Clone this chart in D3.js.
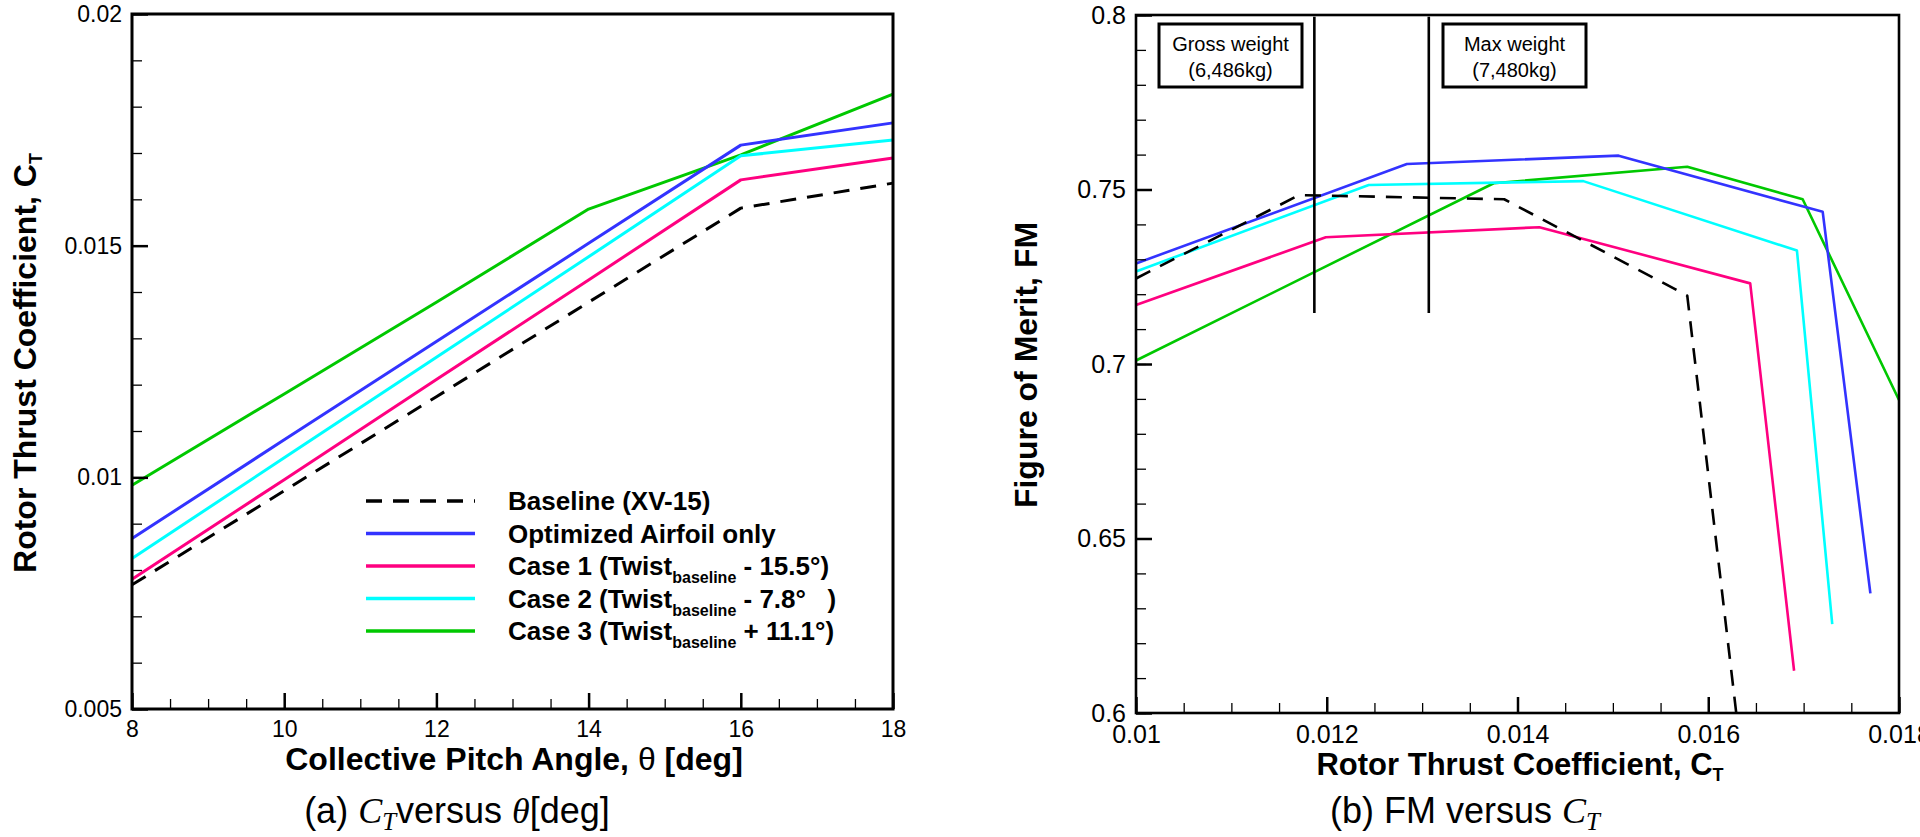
<!DOCTYPE html>
<html>
<head>
<meta charset="utf-8">
<script src="https://cdn.jsdelivr.net/npm/d3@7"></script>
<style>
  body { margin: 0; background: white; }
  svg { display: block; font-family: "Liberation Sans", Arial, sans-serif; }
  text { white-space: pre; }
</style>
</head>
<body>
<script>
// (a) CT versus collective pitch
const pitchDeg = [8, 10, 12, 14, 16, 18]
const ctBaseline = [0.00768, 0.00971, 0.01174, 0.01378, 0.01581, 0.01635]
const ctAirfoil = [0.00868, 0.01081, 0.01293, 0.01505, 0.01717, 0.01765]
const ctCase1 = [0.00780, 0.00995, 0.01211, 0.01426, 0.01642, 0.01689]
const ctCase2 = [0.00825, 0.01042, 0.01259, 0.01476, 0.01694, 0.01728]
const ctCase3 = [0.00983, 0.01180, 0.01378, 0.01579, 0.01696, 0.01827]

// (b) FM versus CT
const fmCtBaseline = [0.0100, 0.01171, 0.01386, 0.01578, 0.01630]
const fmBaseline = [0.7245, 0.7484, 0.7472, 0.7196, 0.5985]
const fmCtAirfoil = [0.0100, 0.01284, 0.01506, 0.01720, 0.01770]
const fmAirfoil = [0.7288, 0.7573, 0.7597, 0.7436, 0.6343]
const fmCtCase1 = [0.0100, 0.01199, 0.01423, 0.01644, 0.01690]
const fmCase1 = [0.7169, 0.7363, 0.7392, 0.7231, 0.6121]
const fmCtCase2 = [0.0100, 0.01244, 0.01469, 0.01693, 0.01730]
const fmCase2 = [0.7265, 0.7513, 0.7524, 0.7325, 0.6255]
const fmCtCase3 = [0.0100, 0.01375, 0.01578, 0.01699, 0.0180]
const fmCase3 = [0.7010, 0.7518, 0.7565, 0.7472, 0.6897]

// weight markers
const weightNames = ['Gross weight', 'Max weight']
const weightMass = ['(6,486kg)', '(7,480kg)']
const weightCt = [0.01187, 0.01307]
const weightFmRange = [0.7146, 0.7995]

// legend
const legendMain = ['Baseline (XV-15)', 'Optimized Airfoil only', 'Case 1 (Twist', 'Case 2 (Twist', 'Case 3 (Twist']
const legendSub = ['', '', 'baseline', 'baseline', 'baseline']
const legendTail = ['', '', ' - 15.5\u00b0)', ' - 7.8\u00b0   )', ' + 11.1\u00b0)']

// ticks
const pitchTicks = [8, 10, 12, 14, 16, 18]
const ctTicks = [0.005, 0.01, 0.015, 0.02]
const ctTickLabels = ['0.005', '0.01', '0.015', '0.02']
const fmCtTicks = [0.01, 0.012, 0.014, 0.016, 0.018]
const fmCtTickLabels = ['0.01', '0.012', '0.014', '0.016', '0.018']
const fmTicks = [0.6, 0.65, 0.7, 0.75, 0.8]
const fmTickLabels = ['0.6', '0.65', '0.7', '0.75', '0.8']

const colors = ['black', '#3333ff', '#ff0080', '#00ffff', '#00c800']
const dashes = ['16,11', null, null, null, null]

const width = 1920
const height = 837

const svg = d3.select('body')
    .append('svg')
    .attr('width', width)
    .attr('height', height)

// scales
let xPitch = d3.scaleLinear().domain([8, 18]).range([132, 893])
let yCt = d3.scaleLinear().domain([0.005, 0.02]).range([709, 14])
let xFmCt = d3.scaleLinear().domain([0.01, 0.018]).range([1136, 1899])
let yFm = d3.scaleLinear().domain([0.6, 0.8]).range([713, 15])

function range(a, b, step) {
    // minor tick positions
    let out = []
    for (let i = 0; a + i * step <= b + step / 1000; i++) out.push(+(a + i * step).toFixed(6))
    return out
}

function drawAxes(g, xs, ys, xTicks, xLabels, xMinor, yTicks, yLabels, yMinor, fontSize, frameWidth) {
    let [x0, x1] = xs.range()
    let [y0, y1] = ys.range()
    let bottom = g.append('g')
        .attr('transform', `translate(0, ${y0})`)
        .call(d3.axisBottom(xs).tickValues(xMinor).tickSize(-10).tickFormat(''))
    bottom.select('.domain').remove()
    bottom.selectAll('text').remove()
    bottom.selectAll('line').attr('stroke-width', 1.3)
    let bottomMajor = g.append('g')
        .attr('transform', `translate(0, ${y0})`)
        .call(d3.axisBottom(xs).tickValues(xTicks).tickSize(-16).tickPadding(12)
            .tickFormat((d, i) => xLabels[i]))
    bottomMajor.select('.domain').remove()
    bottomMajor.selectAll('line').attr('stroke-width', 2.5)
    bottomMajor.selectAll('text')
        .attr('font-size', fontSize)
        .attr('font-family', '"Liberation Sans", Arial, sans-serif')
        .attr('fill', 'black')

    let left = g.append('g')
        .attr('transform', `translate(${x0}, 0)`)
        .call(d3.axisLeft(ys).tickValues(yMinor).tickSize(-10).tickFormat(''))
    left.select('.domain').remove()
    left.selectAll('text').remove()
    left.selectAll('line').attr('stroke-width', 1.3)
    let leftMajor = g.append('g')
        .attr('transform', `translate(${x0}, 0)`)
        .call(d3.axisLeft(ys).tickValues(yTicks).tickSize(-16).tickPadding(10)
            .tickFormat((d, i) => yLabels[i]))
    leftMajor.select('.domain').remove()
    leftMajor.selectAll('line').attr('stroke-width', 2.5)
    leftMajor.selectAll('text')
        .attr('font-size', fontSize)
        .attr('font-family', '"Liberation Sans", Arial, sans-serif')
        .attr('fill', 'black')

    g.append('rect')
        .attr('x', x0)
        .attr('y', y1)
        .attr('width', x1 - x0)
        .attr('height', y0 - y1)
        .attr('fill', 'none')
        .attr('stroke', 'black')
        .attr('stroke-width', frameWidth)
}

function drawSeries(g, xs, ys, xVals, yVals, i, lineWidth) {
    let pts = xVals.map((x, k) => [x, yVals[k]])
    g.append('path')
        .datum(pts)
        .attr('d', d3.line().x(d => xs(d[0])).y(d => ys(d[1])))
        .attr('fill', 'none')
        .attr('stroke', colors[i])
        .attr('stroke-width', lineWidth)
        .attr('stroke-dasharray', dashes[i])
        .attr('stroke-linejoin', 'round')
}

// ---------- panel (a) ----------
let gA = svg.append('g').attr('id', 'panel-a')
let seriesA = [ctBaseline, ctAirfoil, ctCase1, ctCase2, ctCase3]
// draw order: green under others like the picture
for (let i of [4, 3, 2, 1, 0]) drawSeries(gA, xPitch, yCt, pitchDeg, seriesA[i], i, 3)
drawAxes(gA, xPitch, yCt, pitchTicks, pitchTicks.map(String), range(8, 18, 0.5),
    ctTicks, ctTickLabels, range(0.005, 0.02, 0.001), 23, 3)

// legend
let legend = gA.append('g').attr('id', 'legend')
let legendY = d3.scalePoint().domain(d3.range(legendMain.length)).range([501, 631])
legendMain.forEach((label, i) => {
    let y = legendY(i)
    legend.append('line')
        .attr('x1', 366).attr('x2', 475)
        .attr('y1', y).attr('y2', y)
        .attr('stroke', colors[i])
        .attr('stroke-width', 3.5)
        .attr('stroke-dasharray', dashes[i])
    let t = legend.append('text')
        .attr('x', 508)
        .attr('y', y + 9)
        .attr('font-size', 26)
        .attr('font-weight', 'bold')
        .text(label)
    if (legendSub[i]) {
        t.append('tspan').attr('font-size', 16).attr('dy', 8).text(legendSub[i])
        t.append('tspan').attr('dy', -8).text(legendTail[i])
    }
})

// axis titles
gA.append('text')
    .attr('x', 514)
    .attr('y', 770)
    .attr('text-anchor', 'middle')
    .attr('font-size', 32)
    .attr('font-weight', 'bold')
    .call(t => {
        t.append('tspan').text('Collective Pitch Angle, ')
        t.append('tspan').attr('font-weight', 'normal').text('\u03b8')
        t.append('tspan').text(' [deg]')
    })
gA.append('text')
    .attr('transform', 'translate(36, 363) rotate(-90)')
    .attr('text-anchor', 'middle')
    .attr('font-size', 32)
    .attr('font-weight', 'bold')
    .call(t => {
        t.append('tspan').text('Rotor Thrust Coefficient, C')
        t.append('tspan').attr('font-size', 18).attr('dy', 6).text('T')
    })

// ---------- panel (b) ----------
let gB = svg.append('g').attr('id', 'panel-b')
let seriesBx = [fmCtBaseline, fmCtAirfoil, fmCtCase1, fmCtCase2, fmCtCase3]
let seriesBy = [fmBaseline, fmAirfoil, fmCase1, fmCase2, fmCase3]
for (let i of [4, 3, 2, 1, 0]) drawSeries(gB, xFmCt, yFm, seriesBx[i], seriesBy[i], i, 2.6)
drawAxes(gB, xFmCt, yFm, fmCtTicks, fmCtTickLabels, range(0.01, 0.018, 0.0005),
    fmTicks, fmTickLabels, range(0.6, 0.8, 0.01), 25, 2.6)

// weight markers and boxes
let boxX = [1159, 1443]
weightCt.forEach((ct, i) => {
    gB.append('line')
        .attr('x1', xFmCt(ct)).attr('x2', xFmCt(ct))
        .attr('y1', yFm(weightFmRange[0])).attr('y2', yFm(weightFmRange[1]))
        .attr('stroke', 'black')
        .attr('stroke-width', 2.6)
    gB.append('rect')
        .attr('x', boxX[i])
        .attr('y', 24)
        .attr('width', 143)
        .attr('height', 63)
        .attr('fill', 'white')
        .attr('stroke', 'black')
        .attr('stroke-width', 3)
    gB.append('text')
        .attr('x', boxX[i] + 71.5)
        .attr('y', 51)
        .attr('text-anchor', 'middle')
        .attr('font-size', 20)
        .text(weightNames[i])
    gB.append('text')
        .attr('x', boxX[i] + 71.5)
        .attr('y', 77)
        .attr('text-anchor', 'middle')
        .attr('font-size', 20)
        .text(weightMass[i])
})

gB.append('text')
    .attr('x', 1520)
    .attr('y', 775)
    .attr('text-anchor', 'middle')
    .attr('font-size', 31)
    .attr('font-weight', 'bold')
    .call(t => {
        t.append('tspan').text('Rotor Thrust Coefficient, C')
        t.append('tspan').attr('font-size', 18).attr('dy', 6).text('T')
    })
gB.append('text')
    .attr('transform', 'translate(1037, 365) rotate(-90)')
    .attr('text-anchor', 'middle')
    .attr('font-size', 32)
    .attr('font-weight', 'bold')
    .text('Figure of Merit, FM')

// ---------- captions ----------
function caption(x, parts) {
    let t = svg.append('text')
        .attr('x', x)
        .attr('y', 823)
        .attr('text-anchor', 'middle')
        .attr('font-size', 36)
    for (let p of parts) {
        let s = t.append('tspan').text(p.text)
        if (p.italic) s.attr('font-family', '"Liberation Serif", "DejaVu Serif", serif').attr('font-style', 'italic')
        if (p.sub) s.attr('font-size', 25).attr('dy', 7)
        if (p.up) s.attr('dy', -7)
    }
}
caption(457, [
    {text: '(a) '}, {text: 'C', italic: true}, {text: 'T', italic: true, sub: true},
    {text: 'versus ', up: true}, {text: '\u03b8', italic: true}, {text: '[deg]'}
])
caption(1465, [
    {text: '(b) FM versus '}, {text: 'C', italic: true}, {text: 'T', italic: true, sub: true}
])
</script>
</body>
</html>
